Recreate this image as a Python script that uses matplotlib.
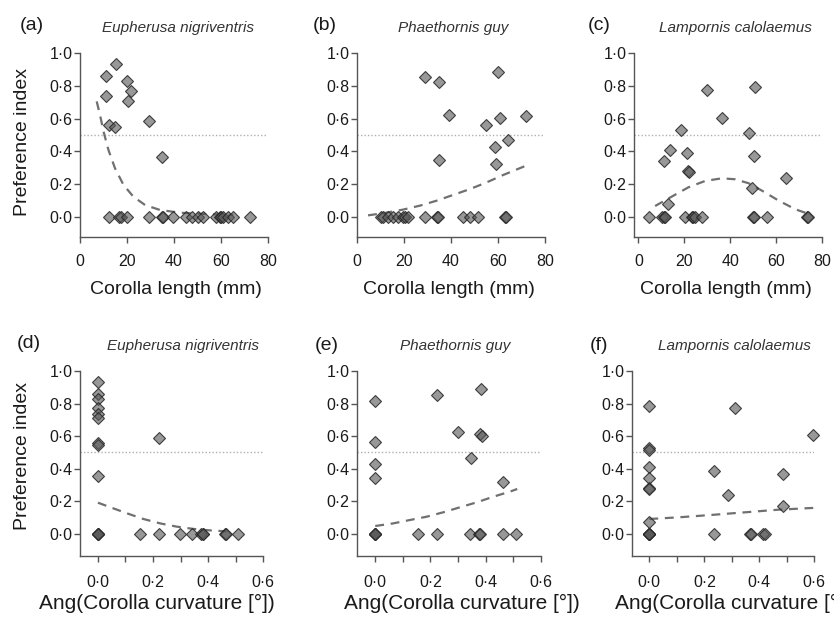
import matplotlib
matplotlib.use("Agg")
import matplotlib.pyplot as plt
from matplotlib.ticker import FixedLocator, FixedFormatter

plt.rcParams['font.family'] = ['Liberation Sans', 'DejaVu Sans']

W, H = 834, 619

# ---------------- data ----------------
species = ["Eupherusa nigriventris", "Phaethornis guy", "Lampornis calolaemus"]
panel_tags = ["(a)", "(b)", "(c)", "(d)", "(e)", "(f)"]

# Top row: corolla length (mm)
a_x = [11.1, 15.3, 19.9, 21.6, 20.3, 10.9, 12.5, 14.9, 29.4, 35.1,
       12.2, 16.5, 17.3, 19.9, 29.5, 34.8, 35.2, 39.5, 45.2, 47.8, 50.2, 52.3,
       58.0, 59.5, 60.1, 61.0, 63.0, 65.1, 72.2]
a_y = [0.86, 0.935, 0.83, 0.77, 0.71, 0.735, 0.56, 0.546, 0.585, 0.363,
       0, 0, 0, 0, 0, 0, 0, 0, 0, 0, 0, 0, 0, 0, 0, 0, 0, 0, 0]
a_fit_x = [7.1, 8.5, 10.2, 12.1, 14.9, 18.5, 22.7, 27.7, 34.0, 42.6, 53.9, 65.2]
a_fit_y = [0.705, 0.623, 0.511, 0.409, 0.297, 0.196, 0.124, 0.073, 0.043, 0.026, 0.018, 0.012]

b_x = [29.1, 34.7, 39.1, 34.8, 59.9, 60.7, 71.9, 54.8, 64.1, 58.8, 59.1,
       10.4, 11.2, 13.2, 15.4, 17.5, 19.6, 20.5, 21.8, 28.9, 34.1, 34.5,
       45.2, 48.1, 51.6, 63.0, 63.4]
b_y = [0.851, 0.821, 0.623, 0.346, 0.884, 0.603, 0.613, 0.564, 0.468, 0.428, 0.322,
       0, 0, 0, 0, 0, 0, 0, 0, 0, 0, 0, 0, 0, 0, 0, 0]
b_fit_x = [4.7, 12, 19.6, 27, 34, 41, 48, 55, 62, 71.4]
b_fit_y = [0.01, 0.025, 0.045, 0.07, 0.10, 0.135, 0.17, 0.21, 0.255, 0.31]

c_x = [30.1, 50.8, 36.4, 18.6, 48.0, 13.8, 11.2, 21.1, 50.2, 21.5, 22.0, 64.4, 49.7, 12.7,
       4.8, 10.2, 11.0, 11.6, 20.4, 23.3, 23.6, 24.7, 27.6, 50.1, 50.4, 56.0, 73.4, 73.8]
c_y = [0.772, 0.79, 0.603, 0.532, 0.515, 0.407, 0.342, 0.389, 0.369, 0.28, 0.275, 0.236,
       0.175, 0.079,
       0, 0, 0, 0, 0, 0, 0, 0, 0, 0, 0, 0, 0, 0]
c_fit_x = [7.3, 14.5, 21.8, 29.1, 36.4, 42.2, 48.0, 53.8, 61.1, 68.4, 73.5]
c_fit_y = [0.067, 0.124, 0.181, 0.22, 0.236, 0.23, 0.206, 0.161, 0.10, 0.047, 0.022]

# Bottom row: Ang(corolla curvature)
d_x = [0, 0, 0, 0, 0, 0, 0, 0, 0, 0.222,
       0, 0, 0, 0, 0.153, 0.22, 0.298, 0.34, 0.375, 0.38, 0.383, 0.46, 0.465, 0.507]
d_y = [0.935, 0.86, 0.83, 0.77, 0.735, 0.71, 0.56, 0.546, 0.356, 0.587,
       0, 0, 0, 0, 0, 0, 0, 0, 0, 0, 0, 0, 0, 0]
d_fit_x = [0, 0.045, 0.105, 0.165, 0.226, 0.286, 0.347, 0.407, 0.467]
d_fit_y = [0.192, 0.164, 0.127, 0.092, 0.065, 0.045, 0.031, 0.022, 0.016]

e_x = [0, 0, 0, 0, 0.225, 0.383, 0.30, 0.38, 0.385, 0.347, 0.463,
       0, 0, 0, 0, 0.156, 0.225, 0.343, 0.375, 0.38, 0.464, 0.51]
e_y = [0.818, 0.566, 0.427, 0.346, 0.85, 0.89, 0.628, 0.615, 0.60, 0.468, 0.317,
       0, 0, 0, 0, 0, 0, 0, 0, 0, 0, 0]
e_fit_x = [0, 0.065, 0.126, 0.186, 0.246, 0.307, 0.367, 0.428, 0.488, 0.514]
e_fit_y = [0.049, 0.065, 0.086, 0.106, 0.133, 0.164, 0.194, 0.229, 0.26, 0.276]

f_x = [0, 0, 0, 0, 0, 0, 0, 0, 0.311, 0.596, 0.235, 0.485, 0.285, 0.485,
       0, 0, 0, 0, 0, 0.235, 0.365, 0.37, 0.415, 0.42]
f_y = [0.787, 0.53, 0.515, 0.413, 0.346, 0.284, 0.277, 0.074, 0.773, 0.605, 0.389, 0.366,
       0.239, 0.174,
       0, 0, 0, 0, 0, 0, 0, 0, 0, 0]
f_fit_x = [0, 0.105, 0.227, 0.348, 0.469, 0.596]
f_fit_y = [0.092, 0.102, 0.117, 0.133, 0.149, 0.16]

y_ticks = [0.0, 0.2, 0.4, 0.6, 0.8, 1.0]
y_ticklabels = ["0\u00b70", "0\u00b72", "0\u00b74", "0\u00b76", "0\u00b78", "1\u00b70"]
len_ticks = [0, 20, 40, 60, 80]
len_ticklabels = ["0", "20", "40", "60", "80"]
ang_ticks = [0.0, 0.1, 0.2, 0.3, 0.4, 0.5, 0.6]
ang_ticklabels = ["0\u00b70", "", "0\u00b72", "", "0\u00b74", "", "0\u00b76"]

xlabel_top = "Corolla length (mm)"
xlabel_bot = "Ang(Corolla curvature [\u00b0])"
ylabel = "Preference index"

# ---------------- layout (pixels) ----------------
boxes = [
    (80, 268, 45, 237), (357, 545, 45, 237), (634, 822, 45, 237),
    (80, 263.3, 362, 556), (357, 541, 362, 556), (632, 814.3, 362, 556),
]
xlims = [(0, 80), (0, 80), (-1.9, 80),
         (-0.065, 0.6), (-0.066, 0.6), (-0.063, 0.6)]
ylims_top = (-0.122, 1.049)
ylims_bot = (-0.135, 1.055)

panels = [
    (a_x, a_y, a_fit_x, a_fit_y),
    (b_x, b_y, b_fit_x, b_fit_y),
    (c_x, c_y, c_fit_x, c_fit_y),
    (d_x, d_y, d_fit_x, d_fit_y),
    (e_x, e_y, e_fit_x, e_fit_y),
    (f_x, f_y, f_fit_x, f_fit_y),
]

spine_col = "#555555"
text_col = "#1a1a1a"

fig = plt.figure(figsize=(W / 100, H / 100), dpi=100)

for i, (px, py, fx, fy) in enumerate(panels):
    l, r, t, b = boxes[i]
    ax = fig.add_axes([l / W, 1 - b / H, (r - l) / W, (b - t) / H])
    top = i < 3
    ax.set_xlim(*xlims[i])
    ax.set_ylim(*(ylims_top if top else ylims_bot))
    for s in ["top", "right"]:
        ax.spines[s].set_visible(False)
    ax.spines["left"].set_bounds(ax.get_ylim()[0], 1.0)
    ax.spines["bottom"].set_bounds(xlims[i][0], 80 if top else 0.6)
    for s in ["left", "bottom"]:
        ax.spines[s].set_color(spine_col)
        ax.spines[s].set_linewidth(1.0)
    ax.patch.set_alpha(0)

    ax.axhline(0.5, color="#b0b0b0", lw=1.0, ls=(0, (1, 1.5)), zorder=1)
    ax.plot(fx, fy, color="#707070", lw=1.6, ls=(0, (4, 3)), zorder=2)
    ax.plot(px, py, ls="none", marker="D", ms=6.0,
            mfc=(0.35, 0.35, 0.35, 0.62), mec=(0.15, 0.15, 0.15, 0.85),
            mew=0.8, zorder=3, clip_on=False)

    ax.yaxis.set_major_locator(FixedLocator(y_ticks))
    ax.yaxis.set_major_formatter(FixedFormatter(y_ticklabels))
    if top:
        ax.xaxis.set_major_locator(FixedLocator(len_ticks))
        ax.xaxis.set_major_formatter(FixedFormatter(len_ticklabels))
    else:
        ax.xaxis.set_major_locator(FixedLocator(ang_ticks))
        ax.xaxis.set_major_formatter(FixedFormatter(ang_ticklabels))
    ax.tick_params(axis="y", direction="out", length=4.5, width=1.0,
                   color=spine_col, labelsize=11.5, labelcolor=text_col, pad=1)
    ax.tick_params(axis="x", direction="out", length=4.5, width=1.0,
                   color=spine_col, labelsize=11.5, labelcolor=text_col,
                   pad=8 if top else 9.5)

# axis labels
for cx in [176, 449, 726]:
    fig.text(cx / W, 1 - 290 / H, xlabel_top, ha="center", va="center",
             fontsize=14, color=text_col)
for cx in [157, 462, 733]:
    fig.text(cx / W, 1 - 603 / H, xlabel_bot, ha="center", va="center",
             fontsize=15, color=text_col)
for cy in [142, 456]:
    fig.text(23 / W, 1 - cy / H, ylabel, ha="center", va="center",
             rotation=90, fontsize=14, color=text_col)

# species titles
title_pos = [(178, 28), (453, 28), (735, 28), (183, 346), (455, 346), (734, 346)]
for i, (cx, cy) in enumerate(title_pos):
    fig.text(cx / W, 1 - cy / H, species[i % 3], ha="center", va="center",
             fontsize=11, style="italic", color="#333333")

# panel tags
tag_pos = [(20, 25), (313, 25), (588, 25), (17, 343), (315, 346), (590, 346)]
for i, (lx, ly) in enumerate(tag_pos):
    fig.text(lx / W, 1 - ly / H, panel_tags[i], ha="left", va="center",
             fontsize=14, color=text_col)

fig.savefig("out.png", dpi=100)
